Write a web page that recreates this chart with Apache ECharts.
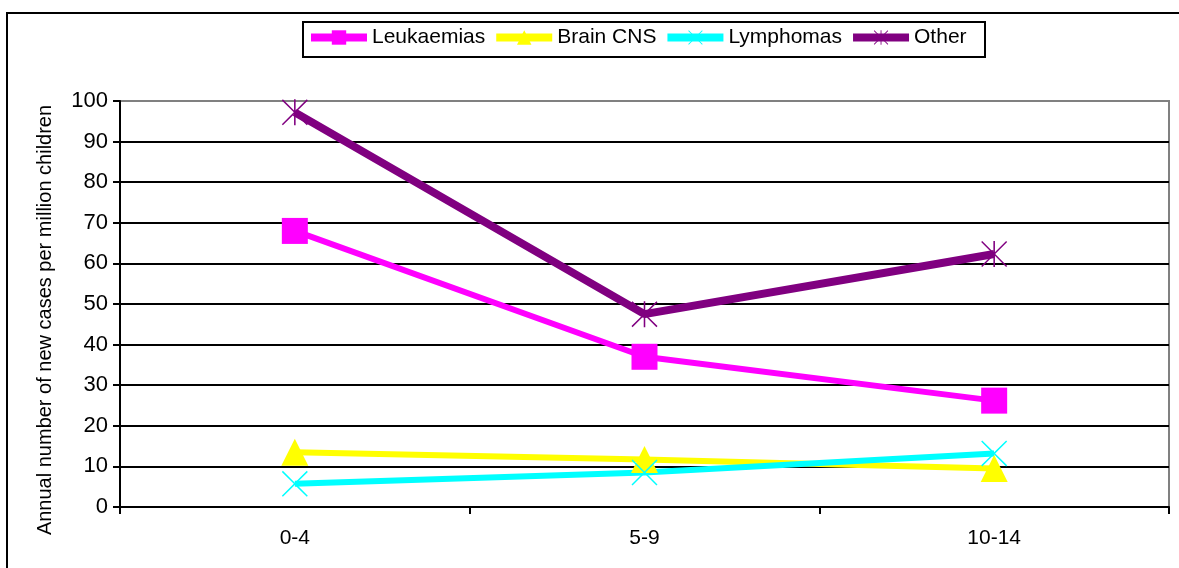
<!DOCTYPE html>
<html>
<head>
<meta charset="utf-8">
<script src="https://cdn.jsdelivr.net/npm/echarts@6/dist/echarts.min.js"></script>
<style>
  html, body { margin: 0; padding: 0; background: #fff; }
  #chart { width: 1179px; height: 568px; }
</style>
</head>
<body>
<div id="chart"></div>
<script>
var ageGroups = ['0-4', '5-9', '10-14']
var leukaemias = [68.0, 37.0, 26.2]
var brainCNS = [13.5, 11.7, 9.5]
var lymphomas = [5.7, 8.5, 13.2]
var other = [97.2, 47.5, 62.3]
var yTicks = { min: 0, max: 100, interval: 10 }
var yTitle = 'Annual number of new cases per million children'

var font = 'Liberation Sans, Arial, sans-serif'

// thin cross and asterisk shapes, filled so they keep the series colour
var crossPath = 'path://M0,4L4,0L50,46L96,0L100,4L54,50L100,96L96,100L50,54L4,100L0,96L46,50Z'
var starPath = crossPath + 'M47,0L53,0L53,100L47,100Z'

function lineSeries (name, data, color, width, symbol, size) {
  return {
    name: name,
    type: 'line',
    data: data,
    symbol: symbol,
    symbolSize: size,
    showAllSymbol: true,
    lineStyle: { color: color, width: width },
    itemStyle: { color: color },
    emphasis: { disabled: true },
    animation: false
  }
}

var splitColors = []
for (var i = 0; i < 10; i++) splitColors.push('#000')
splitColors.push('#808080')

var option = {
  backgroundColor: '#fff',
  animation: false,
  graphic: [
    {
      type: 'rect',
      z: -1,
      shape: { x: 7, y: 13, width: 1200, height: 600 },
      style: { fill: 'none', stroke: '#000', lineWidth: 2 }
    },
    {
      type: 'rect',
      z: 10,
      shape: { x: 303, y: 22, width: 682, height: 35 },
      style: { fill: 'none', stroke: '#000', lineWidth: 2 }
    },
    {
      type: 'text',
      x: 45,
      y: 320,
      rotation: Math.PI / 2,
      style: {
        text: yTitle,
        fill: '#000',
        font: '20px Liberation Sans, Arial, sans-serif',
        align: 'center',
        verticalAlign: 'middle'
      }
    }
  ],
  legend: {
    left: 307,
    top: 27,
    padding: 0,
    itemWidth: 56,
    itemHeight: 18,
    itemGap: 7,
    lineStyle: { width: 8 },
    textStyle: { fontFamily: font, fontSize: 21, color: '#000' },
    data: ['Leukaemias', 'Brain CNS', 'Lymphomas', 'Other']
  },
  grid: {
    left: 120,
    right: 10,
    top: 101,
    bottom: 61,
    show: true,
    borderColor: '#808080',
    borderWidth: 2,
    containLabel: false
  },
  xAxis: {
    type: 'category',
    data: ageGroups,
    boundaryGap: true,
    axisLine: { lineStyle: { color: '#000', width: 2 } },
    axisTick: { show: true, alignWithLabel: false, length: 7, lineStyle: { color: '#000', width: 2 } },
    axisLabel: { fontFamily: font, fontSize: 21, color: '#000', margin: 21 },
    splitLine: { show: false }
  },
  yAxis: {
    type: 'value',
    min: yTicks.min,
    max: yTicks.max,
    interval: yTicks.interval,
    axisLine: { show: true, lineStyle: { color: '#000', width: 2 } },
    axisTick: { show: true, length: 7, lineStyle: { color: '#000', width: 2 } },
    axisLabel: { fontFamily: font, fontSize: 22, color: '#000', margin: 12 },
    splitLine: { show: true, lineStyle: { color: splitColors, width: 2 } }
  },
  series: [
    lineSeries('Leukaemias', leukaemias, '#FF00FF', 6, 'rect', 26),
    lineSeries('Brain CNS', brainCNS, '#FFFF00', 6, 'triangle', 27),
    lineSeries('Lymphomas', lymphomas, '#00FFFF', 6, crossPath, 26),
    lineSeries('Other', other, '#800080', 8, starPath, 26)
  ]
}

var chart = echarts.init(document.getElementById('chart'), null, { renderer: 'canvas' })
chart.setOption(option)
</script>
</body>
</html>
